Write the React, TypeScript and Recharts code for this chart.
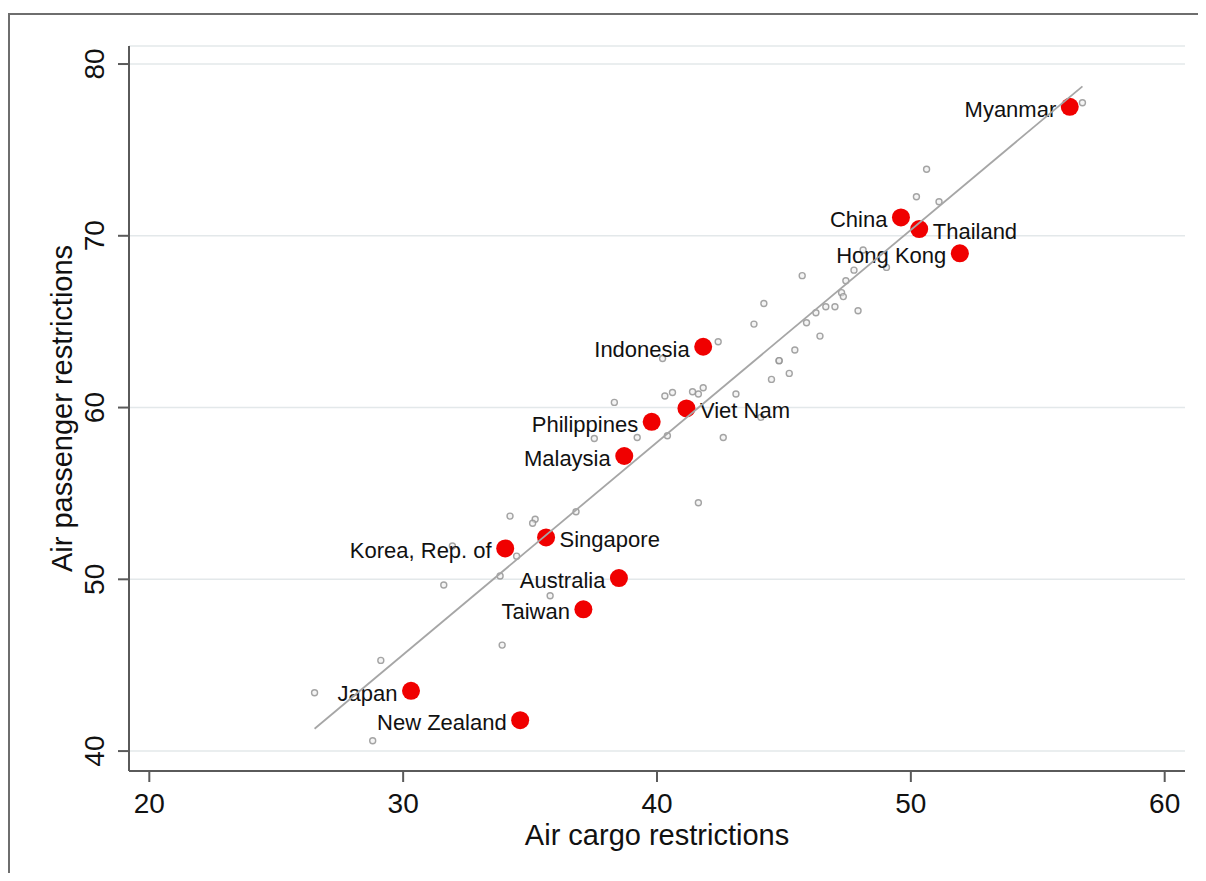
// Air cargo vs. air passenger restrictions scatter, with fitted line

import { ScatterChart, Scatter, XAxis, YAxis, CartesianGrid } from 'recharts';

const FONT = 'Liberation Sans, Arial, Helvetica, sans-serif';

// highlighted economies
const countries = [
    'Myanmar', 'China', 'Thailand', 'Hong Kong', 'Indonesia', 'Viet Nam', 'Philippines',
    'Malaysia', 'Korea, Rep. of', 'Singapore', 'Australia', 'Taiwan', 'Japan', 'New Zealand',
];
const countryCargo = [56.26, 49.61, 50.33, 51.93, 41.82, 41.16, 39.79, 38.71, 34.02, 35.63, 38.5, 37.1, 30.31, 34.61];
const countryPassenger = [77.51, 71.07, 70.39, 68.98, 63.54, 59.95, 59.17, 57.18, 51.8, 52.44, 50.07, 48.25, 43.51, 41.8];
const labelRight = ['Thailand', 'Viet Nam', 'Singapore'];

// other economies (small gray markers)
const otherCargo = [
    34.21, 35.2, 35.1, 36.81, 31.94, 34.47, 33.82, 31.6, 35.79, 33.9, 29.12, 26.51, 28.8,
    43.82, 42.41, 45.89, 46.42, 45.43, 44.81, 44.81, 45.21, 44.51, 40.22, 43.11, 41.82, 41.63,
    41.4, 40.61, 40.31, 38.32, 44.09, 37.53, 39.22, 40.41, 42.61, 41.63,
    50.62, 50.22, 51.11, 48.12, 49.04, 47.76, 47.44, 45.72, 47.27, 47.34, 47.01, 46.65, 46.26,
    47.92, 44.21, 56.76,
];
const otherPassenger = [
    53.68, 53.5, 53.26, 53.93, 51.94, 51.35, 50.19, 49.67, 49.04, 46.17, 45.28, 43.4, 40.6,
    64.86, 63.83, 64.94, 64.16, 63.35, 62.73, 62.73, 61.99, 61.64, 62.86, 60.79, 61.15, 60.79,
    60.92, 60.88, 60.67, 60.3, 59.43, 58.2, 58.26, 58.36, 58.26, 54.46,
    73.87, 72.27, 71.98, 69.17, 68.16, 68.0, 67.38, 67.68, 66.69, 66.46, 65.87, 65.87, 65.52,
    65.64, 66.06, 77.75,
];

// fitted line end points
const fitCargo = [26.51, 56.76];
const fitPassenger = [41.3, 78.7];

const xTicks = [20, 30, 40, 50, 60];
const yTicks = [40, 50, 60, 70, 80];

const highlighted = countries.map((name, i) => ({ name, x: countryCargo[i], y: countryPassenger[i] }));
const others = otherCargo.map((x, i) => ({ x, y: otherPassenger[i] }));
const fit = fitCargo.map((x, i) => ({ x, y: fitPassenger[i] }));

const AXIS = '#5a5a5a';

function YTick({ x, y, payload }: any) {
    return (
        <text x={x} y={y} transform={`rotate(-90 ${x} ${y})`} textAnchor="middle" fontSize={28} fontFamily={FONT} fill="#111">
            {payload.value}
        </text>
    );
}

function CountryDot({ cx, cy, payload }: any) {
    const right = labelRight.includes(payload.name);
    return (
        <g>
            <circle cx={cx} cy={cy} r={9} fill="#f00000" />
            <text
                x={right ? cx + 13.5 : cx - 13.5}
                y={cy + 10}
                textAnchor={right ? 'start' : 'end'}
                fontSize={22}
                fontFamily={FONT}
                fill="#111"
            >
                {payload.name}
            </text>
        </g>
    );
}

function OtherDot({ cx, cy }: any) {
    return <circle cx={cx} cy={cy} r={3} fill="#ececec" fillOpacity={0.5} stroke="#949494" strokeOpacity={0.85} strokeWidth={1.4} />;
}

export default function App() {
    return (
        <div style={{ paddingTop: 5 }}>
            <div
                style={{
                    boxSizing: 'border-box',
                    width: 1198,
                    height: 860,
                    overflow: 'hidden',
                    borderLeft: '2px solid #6e6e6e',
                    borderTop: '2px solid #6e6e6e',
                    background: '#fff',
                }}
            >
                <ScatterChart width={1196} height={858} margin={{ top: 31, right: 21, left: 0, bottom: 22 }}>
                    <CartesianGrid vertical={false} stroke="#e3e8ea" strokeWidth={1.5} />
                    <XAxis
                        type="number"
                        dataKey="x"
                        domain={[19.2, 60.8]}
                        ticks={xTicks}
                        allowDataOverflow
                        height={80}
                        stroke={AXIS}
                        strokeWidth={2}
                        tickSize={11}
                        tickMargin={11}
                        tick={{ fontSize: 28, fontFamily: FONT, fill: '#111' }}
                        label={{
                            content: ({ viewBox }: any) => (
                                <text
                                    x={viewBox.x + viewBox.width / 2}
                                    y={viewBox.y + 74}
                                    textAnchor="middle"
                                    fontSize={29}
                                    fontFamily={FONT}
                                    fill="#111"
                                >
                                    Air cargo restrictions
                                </text>
                            ),
                        }}
                    />
                    <YAxis
                        type="number"
                        dataKey="y"
                        domain={[38.84, 81.05]}
                        ticks={yTicks}
                        allowDataOverflow
                        width={119}
                        stroke={AXIS}
                        strokeWidth={2}
                        tickSize={11}
                        tickMargin={14}
                        tick={<YTick />}
                        label={{
                            content: ({ viewBox }: any) => {
                                const lx = 62;
                                const ly = viewBox.y + viewBox.height / 2;
                                return (
                                    <text
                                        x={lx}
                                        y={ly}
                                        transform={`rotate(-90 ${lx} ${ly})`}
                                        textAnchor="middle"
                                        fontSize={29}
                                        fontFamily={FONT}
                                        fill="#111"
                                    >
                                        Air passenger restrictions
                                    </text>
                                );
                            },
                        }}
                    />
                    <Scatter data={others} shape={<OtherDot />} isAnimationActive={false} />
                    <Scatter data={highlighted} shape={<CountryDot />} isAnimationActive={false} />
                    <Scatter
                        data={fit}
                        line={{ stroke: '#a6a6a6', strokeWidth: 1.8 }}
                        shape={() => <g />}
                        isAnimationActive={false}
                    />
                </ScatterChart>
            </div>
        </div>
    );
}
